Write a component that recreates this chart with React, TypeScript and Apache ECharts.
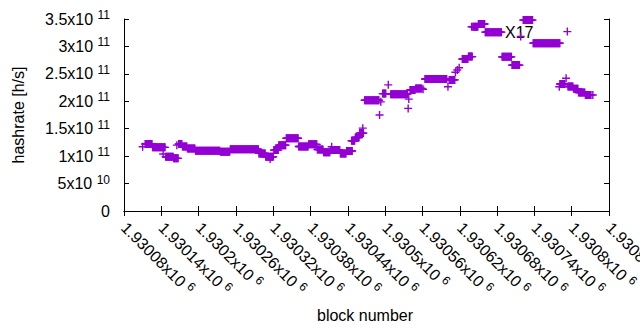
import React, { useEffect, useRef } from "react";
import * as echarts from "echarts";

// Block ranges (inclusive) and hashrate in 1e9 h/s
const segStart = [
  1930110, 1930114, 1930126, 1930143, 1930147, 1930160, 1930165, 1930168, 1930174, 1930182,
  1930195, 1930235, 1930251, 1930297, 1930308, 1930315, 1930321, 1930329, 1930341, 1930361,
  1930377, 1930391, 1930401, 1930412, 1930414, 1930428, 1930438, 1930446, 1930452, 1930459,
  1930464, 1930467, 1930491, 1930493, 1930496, 1930505, 1930509, 1930537, 1930538, 1930540,
  1930549, 1930561, 1930564, 1930601, 1930603, 1930613, 1930616, 1930619, 1930624, 1930634,
  1930639, 1930641, 1930650, 1930661, 1930688, 1930704, 1930718, 1930722, 1930738, 1930780,
  1930781, 1930791, 1930793, 1930794, 1930803, 1930811, 1930822, 1930834,
];
const segEnd = [
  1930110, 1930125, 1930146, 1930143, 1930159, 1930167, 1930165, 1930173, 1930181, 1930194,
  1930234, 1930250, 1930296, 1930307, 1930320, 1930315, 1930328, 1930340, 1930360, 1930376,
  1930390, 1930400, 1930411, 1930427, 1930414, 1930437, 1930447, 1930451, 1930458, 1930465,
  1930464, 1930490, 1930491, 1930493, 1930501, 1930505, 1930536, 1930537, 1930538, 1930548,
  1930559, 1930561, 1930599, 1930601, 1930612, 1930613, 1930616, 1930619, 1930633, 1930640,
  1930639, 1930649, 1930660, 1930687, 1930703, 1930716, 1930718, 1930737, 1930781, 1930780,
  1930789, 1930791, 1930793, 1930802, 1930810, 1930821, 1930831, 1930834,
];
const segValue = [
  117, 122, 116, 104, 99, 96, 120, 122, 117.5, 114,
  110, 108, 112.5, 105, 99, 95, 111, 120, 132.5, 117.5,
  121.5, 112, 107, 111, 117, 105, 109.5, 128, 134, 142,
  151, 202, 175, 199, 214, 230, 213, 187, 204, 220.5,
  223.5, 222, 240.5, 226.5, 239, 253, 257, 261, 277, 281.5,
  336, 336, 341, 326, 281, 266, 318, 348, 306, 226.5,
  231.5, 242, 327, 227, 223, 216, 211.5, 211.5,
];

const X_MIN = 1930080;
const X_MAX = 1930860;
const X_STEP = 60;
const xTickMantissa = [
  "1.93008", "1.93014", "1.9302", "1.93026", "1.93032", "1.93038", "1.93044",
  "1.9305", "1.93056", "1.93062", "1.93068", "1.93074", "1.9308", "1.93086",
];
const xTickExponent = "6";

const Y_MAX = 3.5e11;
const Y_STEP = 5e10;
const yTickMantissa = ["0", "5", "1", "1.5", "2", "2.5", "3", "3.5"];
const yTickExponent = ["", "10", "11", "11", "11", "11", "11", "11"];

const FONT = "Liberation Sans";
const VIOLET = "#9400D3";
const PLUS = "path://M0 3.3H8V4.7H0Z M3.3 0H4.7V8H3.3Z";

const rich = {
  b: { fontFamily: FONT, fontSize: 16, color: "#000", lineHeight: 20 },
  s: { fontFamily: FONT, fontSize: 12, color: "#000", verticalAlign: "top" as const },
};

export default function App() {
  const ref = useRef<HTMLDivElement>(null);
  useEffect(() => {
    if (!ref.current) return;
    const chart = echarts.init(ref.current, undefined, { renderer: "svg" });
    const points: number[][] = [];
    segStart.forEach((s, i) => {
      for (let b = s; b <= segEnd[i]; b++) points.push([b, segValue[i] * 1e9]);
    });
    const axisLine = { show: true, lineStyle: { color: "#000", width: 1 } };
    const tick = { show: true, inside: true, length: 5, lineStyle: { color: "#000", width: 1 } };
    chart.setOption({
      animation: false,
      backgroundColor: "#fff",
      grid: { left: 124, right: 31, top: 19, bottom: 119, containLabel: false, outerBoundsMode: "none" },
      xAxis: [
        {
          type: "value", position: "bottom", min: X_MIN, max: X_MAX, interval: X_STEP,
          axisLine, axisTick: tick, splitLine: { show: false },
          axisLabel: {
            rotate: -45, margin: 14, showMaxLabel: true, showMinLabel: true,
            formatter: (v: number) => {
              const i = Math.round((v - X_MIN) / X_STEP);
              return `{b|${xTickMantissa[i]}x10 }{s|${xTickExponent}}`;
            },
            rich,
          },
        },
        {
          type: "value", position: "top", min: X_MIN, max: X_MAX, interval: X_STEP,
          axisLine, axisTick: tick, splitLine: { show: false }, axisLabel: { show: false },
        },
      ],
      yAxis: [
        {
          type: "value", position: "left", min: 0, max: Y_MAX, interval: Y_STEP,
          axisLine, axisTick: tick, splitLine: { show: false },
          axisLabel: {
            margin: 14,
            formatter: (v: number) => {
              const i = Math.round(v / Y_STEP);
              return yTickExponent[i]
                ? `{b|${yTickMantissa[i]}x10 }{s|${yTickExponent[i]}}`
                : `{b|${yTickMantissa[i]}}`;
            },
            rich,
          },
        },
        {
          type: "value", position: "right", min: 0, max: Y_MAX, interval: Y_STEP,
          axisLine, axisTick: tick, splitLine: { show: false }, axisLabel: { show: false },
        },
      ],
      series: [
        {
          type: "scatter",
          data: points,
          symbol: PLUS,
          symbolSize: 8,
          itemStyle: { color: VIOLET, opacity: 1 },
          clip: false,
        },
      ],
      graphic: [
        {
          type: "text", x: 18, y: 115, rotation: Math.PI / 2,
          style: { text: "hashrate [h/s]", font: `16px "${FONT}"`, fill: "#000", align: "center", verticalAlign: "middle" },
        },
        {
          type: "text", x: 365, y: 315,
          style: { text: "block number", font: `16px "${FONT}"`, fill: "#000", align: "center", verticalAlign: "middle" },
        },
        {
          type: "text", x: 505, y: 32,
          style: { text: "X17", font: `16px "${FONT}"`, fill: "#000", align: "left", verticalAlign: "middle" },
        },
      ],
    });
    return () => chart.dispose();
  }, []);
  return (
    <div
      ref={ref}
      style={{ position: "absolute", left: 0, top: 0, width: 640, height: 330, background: "#fff" }}
    />
  );
}
